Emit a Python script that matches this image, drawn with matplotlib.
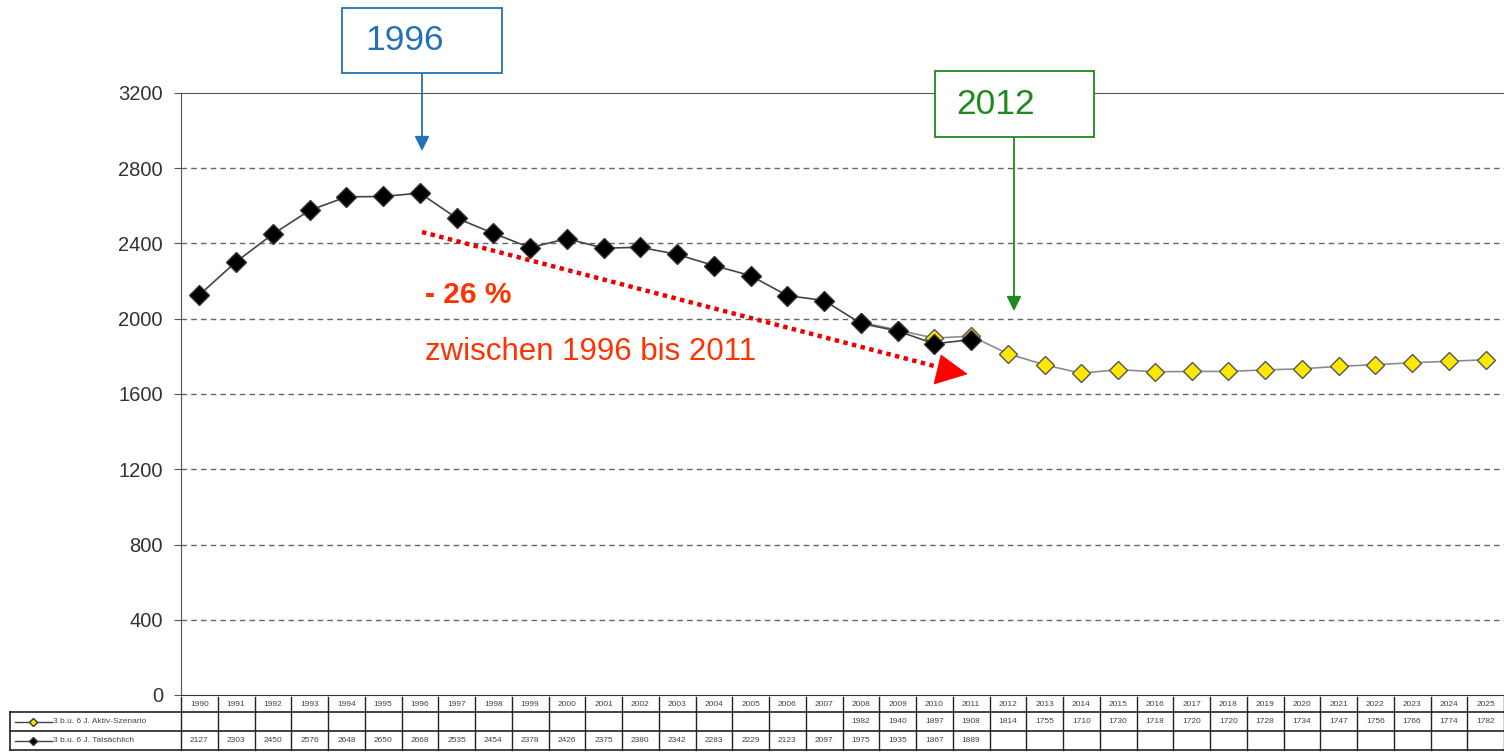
import matplotlib
matplotlib.use("Agg")
import matplotlib.pyplot as plt
from matplotlib.patches import Rectangle, Polygon
from matplotlib.transforms import blended_transform_factory
import numpy as np

plt.rcParams['font.family'] = ['Liberation Sans', 'DejaVu Sans']

years = list(range(1990, 2026))
tats = [2127, 2303, 2450, 2576, 2648, 2650, 2668, 2535, 2454, 2378, 2426, 2375,
        2380, 2342, 2283, 2229, 2123, 2097, 1975, 1935, 1867, 1889]
aktiv_years = list(range(2008, 2026))
aktiv = [1982, 1940, 1897, 1908, 1814, 1755, 1710, 1730, 1718, 1720, 1720, 1728,
         1734, 1747, 1756, 1766, 1774, 1782]
yticks = [0, 400, 800, 1200, 1600, 2000, 2400, 2800, 3200]
label_aktiv = "3 b.u. 6 J. Aktiv-Szenario"
label_tats = "3 b.u. 6 J. Tatsächlich"

W, H = 1504, 753
fig = plt.figure(figsize=(W / 100, H / 100), dpi=100)

def fx(x):
    return x / W

def fy(y):
    return 1 - y / H

ax = fig.add_axes([fx(181), fy(695), fx(1504) - fx(181), fy(93) - fy(695)])
n = len(years)
ax.set_xlim(-0.5, n - 0.5)
ax.set_ylim(0, 3200)
ax.set_yticks(yticks)
ax.set_yticklabels([str(v) for v in yticks], fontsize=14.5, color='#333333')
ax.tick_params(axis='y', direction='out', length=5, color='#555555', pad=8)
ax.set_xticks([])
for y in yticks[1:-1]:
    ax.axhline(y, color='#666666', lw=1.0, ls=(0, (4, 3)), zorder=1)
ax.spines['right'].set_visible(False)
ax.spines['top'].set_color('#555555')
ax.spines['left'].set_color('#555555')
ax.spines['bottom'].set_color('#333333')

xi_t = [years.index(y) for y in years[:len(tats)]]
xi_a = [years.index(y) for y in aktiv_years]
ax.plot(xi_a, aktiv, color='#8c8c8c', lw=1.2, marker='D', markersize=9.5,
        markerfacecolor='#ffe800', markeredgecolor='#555555', markeredgewidth=1.0, zorder=3)
ax.plot(xi_t, tats, color='#444444', lw=1.2, marker='D', markersize=10.5,
        markerfacecolor='black', markeredgecolor='#333333', zorder=4)

# Table
tf = fig.transFigure
trans = blended_transform_factory(ax.transData, tf)
rows_y = [697, 712, 731, 750]
for i in range(n + 1):
    xb = i - 0.5
    fig.add_artist(plt.Line2D([xb, xb], [fy(697), fy(750)], transform=trans,
                              color='#222222', lw=1.0))
for yy in rows_y[1:]:
    fig.add_artist(plt.Line2D([fx(10), fx(1504)], [fy(yy), fy(yy)], transform=tf,
                              color='#222222', lw=1.2))
fig.add_artist(plt.Line2D([fx(10), fx(10)], [fy(712), fy(750)], transform=tf,
                          color='#222222', lw=1.2))
for i, yr in enumerate(years):
    fig.text(i, fy(704.5), str(yr), transform=trans, ha='center', va='center',
             fontsize=6, color='#444444')
for yr, v in zip(aktiv_years, aktiv):
    fig.text(years.index(yr), fy(721.5), str(v), transform=trans, ha='center', va='center',
             fontsize=6, color='#444444')
for i, v in enumerate(tats):
    fig.text(i, fy(740.5), str(v), transform=trans, ha='center', va='center',
             fontsize=6, color='#444444')
for yy, fc, lab in [(721.5, '#ffe800', label_aktiv), (740.5, 'black', label_tats)]:
    fig.add_artist(plt.Line2D([fx(15), fx(52)], [fy(yy), fy(yy)], transform=tf,
                              color='#444444', lw=1.0))
    fig.add_artist(plt.Line2D([fx(33)], [fy(yy)], transform=tf, marker='D', markersize=4,
                              markerfacecolor=fc, markeredgecolor='#333333', lw=0))
    fig.text(fx(53), fy(yy), lab, transform=tf, ha='left', va='center',
             fontsize=6, color='#444444')

# Annotations
blue = '#2472b5'
green = '#1e8a1e'
red_txt = '#ff3300'
red = '#ff0000'
fig.add_artist(Rectangle((fx(342), fy(73)), fx(160), fy(8) - fy(73), transform=tf,
                         fill=True, facecolor='white', edgecolor=blue, lw=1.3))
fig.text(fx(404), fy(41), "1996", transform=tf, ha='center', va='center',
         fontsize=25.5, color=blue)
fig.add_artist(Rectangle((fx(935), fy(137)), fx(159), fy(71) - fy(137), transform=tf,
                         fill=True, facecolor='white', edgecolor=green, lw=1.3))
fig.text(fx(996), fy(105), "2012", transform=tf, ha='center', va='center',
         fontsize=25.5, color=green)
ax.annotate('', xy=(fx(422), fy(151)), xytext=(fx(422), fy(73)), xycoords=tf,
            textcoords=tf, arrowprops=dict(arrowstyle='-|>', color=blue, lw=1.3,
                                           mutation_scale=22, shrinkA=0, shrinkB=0))
ax.annotate('', xy=(fx(1014), fy(311)), xytext=(fx(1014), fy(137)), xycoords=tf,
            textcoords=tf, arrowprops=dict(arrowstyle='-|>', color=green, lw=1.3,
                                           mutation_scale=22, shrinkA=0, shrinkB=0))
# red dotted arrow
x0, y0, x1, y1 = 422, 232, 938, 367
fig.add_artist(plt.Line2D([fx(x0), fx(x1)], [fy(y0), fy(y1)], transform=tf,
                          color='#ee0000', lw=3.2, ls=(0, (1, 1))))
fig.add_artist(Polygon([(fx(941), fy(355)), (fx(967), fy(374)), (fx(934), fy(384))],
                       closed=True, transform=tf, facecolor=red, edgecolor=red, lw=0.5))
fig.text(fx(425), fy(295), "- 26 %", transform=tf, ha='left', va='center',
         fontsize=21.5, color=red_txt, fontweight='bold')
fig.text(fx(425), fy(352), "zwischen 1996 bis 2011", transform=tf, ha='left', va='center',
         fontsize=22.5, color=red_txt)

fig.savefig("out.png", dpi=100)
